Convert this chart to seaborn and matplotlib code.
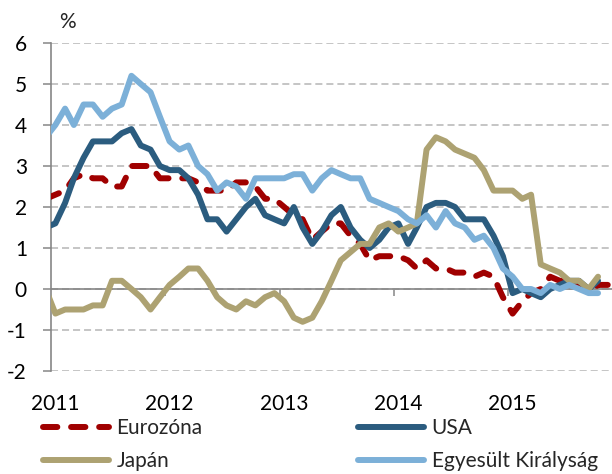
import numpy as np
import pandas as pd
import matplotlib
matplotlib.use("Agg")
import matplotlib.pyplot as plt
import matplotlib.dates as mdates
from matplotlib.transforms import ScaledTranslation
import seaborn as sns

# ---------------- data (monthly, Dec 2010 .. Nov 2015, %) ----------------
months = pd.date_range("2010-12-01", "2015-11-01", freq="MS") + pd.Timedelta(days=14)

eurozone = [2.2,
            2.3, 2.4, 2.7, 2.8, 2.7, 2.7, 2.5, 2.5, 3.0, 3.0, 3.0, 2.7,
            2.7, 2.7, 2.7, 2.6, 2.4, 2.4, 2.4, 2.6, 2.6, 2.5, 2.2, 2.2,
            2.0, 1.8, 1.7, 1.2, 1.4, 1.6, 1.6, 1.3, 1.1, 0.7, 0.8, 0.8,
            0.8, 0.7, 0.5, 0.7, 0.5, 0.5, 0.4, 0.4, 0.3, 0.4, 0.3, -0.2,
            -0.6, -0.3, -0.1, 0.0, 0.3, 0.2, 0.2, 0.1, -0.1, 0.1, 0.1]
usa = [1.5,
       1.6, 2.1, 2.7, 3.2, 3.6, 3.6, 3.6, 3.8, 3.9, 3.5, 3.4, 3.0,
       2.9, 2.9, 2.7, 2.3, 1.7, 1.7, 1.4, 1.7, 2.0, 2.2, 1.8, 1.7,
       1.6, 2.0, 1.5, 1.1, 1.4, 1.8, 2.0, 1.5, 1.2, 1.0, 1.2, 1.5,
       1.6, 1.1, 1.5, 2.0, 2.1, 2.1, 2.0, 1.7, 1.7, 1.7, 1.3, 0.8,
       -0.1, 0.0, -0.1, -0.2, 0.0, 0.1, 0.2, 0.2, 0.0, 0.2]
japan = [0.0,
         -0.6, -0.5, -0.5, -0.5, -0.4, -0.4, 0.2, 0.2, 0.0, -0.2, -0.5, -0.2,
         0.1, 0.3, 0.5, 0.5, 0.2, -0.2, -0.4, -0.5, -0.3, -0.4, -0.2, -0.1,
         -0.3, -0.7, -0.8, -0.7, -0.3, 0.2, 0.7, 0.9, 1.1, 1.1, 1.5, 1.6,
         1.4, 1.5, 1.6, 3.4, 3.7, 3.6, 3.4, 3.3, 3.2, 2.9, 2.4, 2.4,
         2.4, 2.2, 2.3, 0.6, 0.5, 0.4, 0.2, 0.2, 0.0, 0.3]
uk = [3.7,
      4.0, 4.4, 4.0, 4.5, 4.5, 4.2, 4.4, 4.5, 5.2, 5.0, 4.8, 4.2,
      3.6, 3.4, 3.5, 3.0, 2.8, 2.4, 2.6, 2.5, 2.2, 2.7, 2.7, 2.7,
      2.7, 2.8, 2.8, 2.4, 2.7, 2.9, 2.8, 2.7, 2.7, 2.2, 2.1, 2.0,
      1.9, 1.7, 1.6, 1.8, 1.5, 1.9, 1.6, 1.5, 1.2, 1.3, 1.0, 0.5,
      0.3, 0.0, 0.0, -0.1, 0.1, 0.0, 0.1, 0.0, -0.1, -0.1]

series_names = ["Eurozóna", "USA", "Japán", "Egyesült Királyság"]
year_labels = ["2011", "2012", "2013", "2014", "2015"]
y_ticks = [-2, -1, 0, 1, 2, 3, 4, 5, 6]

# ---------------- style ----------------
sns.set_style("white")
plt.rcParams["font.family"] = ["Lato", "DejaVu Sans"]
FS = 15
FS_PX = FS * 100 / 72
GRAY = "#868686"
W, H = 612, 474

fig = plt.figure(figsize=(W / 100, H / 100), dpi=100)
ax = fig.add_axes([51 / W, 103 / H, 561 / W, 328 / H])

colors = ["#A00000", "#2B5C7F", "#ADA272", "#7CB0D8"]
values = [eurozone, usa, japan, uk]
for name, vals, col in zip(series_names, values, colors):
    kw = dict(solid_capstyle="round", solid_joinstyle="round")
    if name == "Eurozóna":
        kw = dict(linestyle=(0, (2.4, 2.3)), dash_capstyle="round",
                  dash_joinstyle="round")
    sns.lineplot(x=months[:len(vals)], y=vals, ax=ax, color=col,
                 linewidth=4.3, label=name, zorder=3, **kw)

start = pd.Timestamp("2011-01-01")
ax.set_xlim(mdates.date2num(start), mdates.date2num(start) + 1792.6)
ax.set_ylim(-2, 6)
ax.set_yticks(y_ticks)
ax.set_yticklabels([str(v) for v in y_ticks])
ax.set_xlabel("")
ax.set_ylabel("")

ax.grid(False)
ax.grid(axis="y", color="#C0C0C0", linewidth=1.3, linestyle=(0, (3.9, 2.2)))
ax.axhline(0, color=GRAY, linewidth=1.2, zorder=2)

for s in ["top", "right", "bottom"]:
    ax.spines[s].set_visible(False)
ax.spines["left"].set_color(GRAY)
ax.spines["left"].set_linewidth(1.2)

ax.tick_params(axis="y", direction="out", length=5.8, width=1.1, color=GRAY,
               pad=11.5, labelsize=FS, labelcolor="black", left=True)

year_pos = [mdates.date2num(pd.Timestamp(f"{y}-01-01")) for y in year_labels]
ax.set_xticks(year_pos)
ax.set_xticklabels(year_labels)
ax.tick_params(axis="x", length=0, pad=39 * 72 / 100, labelsize=FS,
               labelcolor="black")

# tick marks on the zero line
sec = ax.secondary_xaxis(0.25)
sec.set_xticks(year_pos[1:])
sec.tick_params(direction="out", length=5, width=1.1, color=GRAY,
                labelbottom=False)
for sp in sec.spines.values():
    sp.set_visible(False)

fig.text(67.5 / W, 1 - 28 / H, "%", ha="center", va="baseline", fontsize=FS)

fig.canvas.draw()
off = ScaledTranslation(4 / 100, 0, fig.dpi_scale_trans)
for tk in ax.xaxis.get_major_ticks():
    tk.label1.set_va("baseline")
    tk.label1.set_transform(tk.label1.get_transform() + off)

# legends
handles, labels = ax.get_legend_handles_labels()
if ax.get_legend() is not None:
    ax.get_legend().remove()
hd = dict(zip(labels, handles))
common = dict(loc="upper left", frameon=False, fontsize=FS, handlelength=3.17,
              handletextpad=0.36, borderpad=0, borderaxespad=0)


def make_legend(names, ax_px, ay_px, ls):
    return fig.legend([hd[n] for n in names], names,
                      bbox_to_anchor=(ax_px / W, 1 - ay_px / H),
                      labelspacing=ls, **common)


def line_info(leg):
    out = []
    for ln in leg.get_lines():
        xy = ln.get_transform().transform(ln.get_xydata())
        out.append((xy[:, 0].min(), xy[:, 1].mean()))
    return out


def place_legend(names, target_x, target_y_top, spacing_px):
    ax_px, ay_px, ls = target_x, target_y_top - 12, 0.7
    leg = make_legend(names, ax_px, ay_px, ls)
    fig.canvas.draw()
    (x0, y0), (x1, y1) = line_info(leg)
    ls = ls + (spacing_px - (y0 - y1)) / FS_PX
    leg.remove()
    leg = make_legend(names, ax_px, ay_px, ls)
    fig.canvas.draw()
    (x0, y0), _ = line_info(leg)
    ax_px += target_x - x0
    ay_px += y0 - (H - target_y_top)
    leg.remove()
    leg = make_legend(names, ax_px, ay_px, ls)
    return leg


place_legend(["Eurozóna", "Japán"], 43, 427, 33)
place_legend(["USA", "Egyesült Királyság"], 358, 427, 33)

fig.savefig("out.png", dpi=100)
